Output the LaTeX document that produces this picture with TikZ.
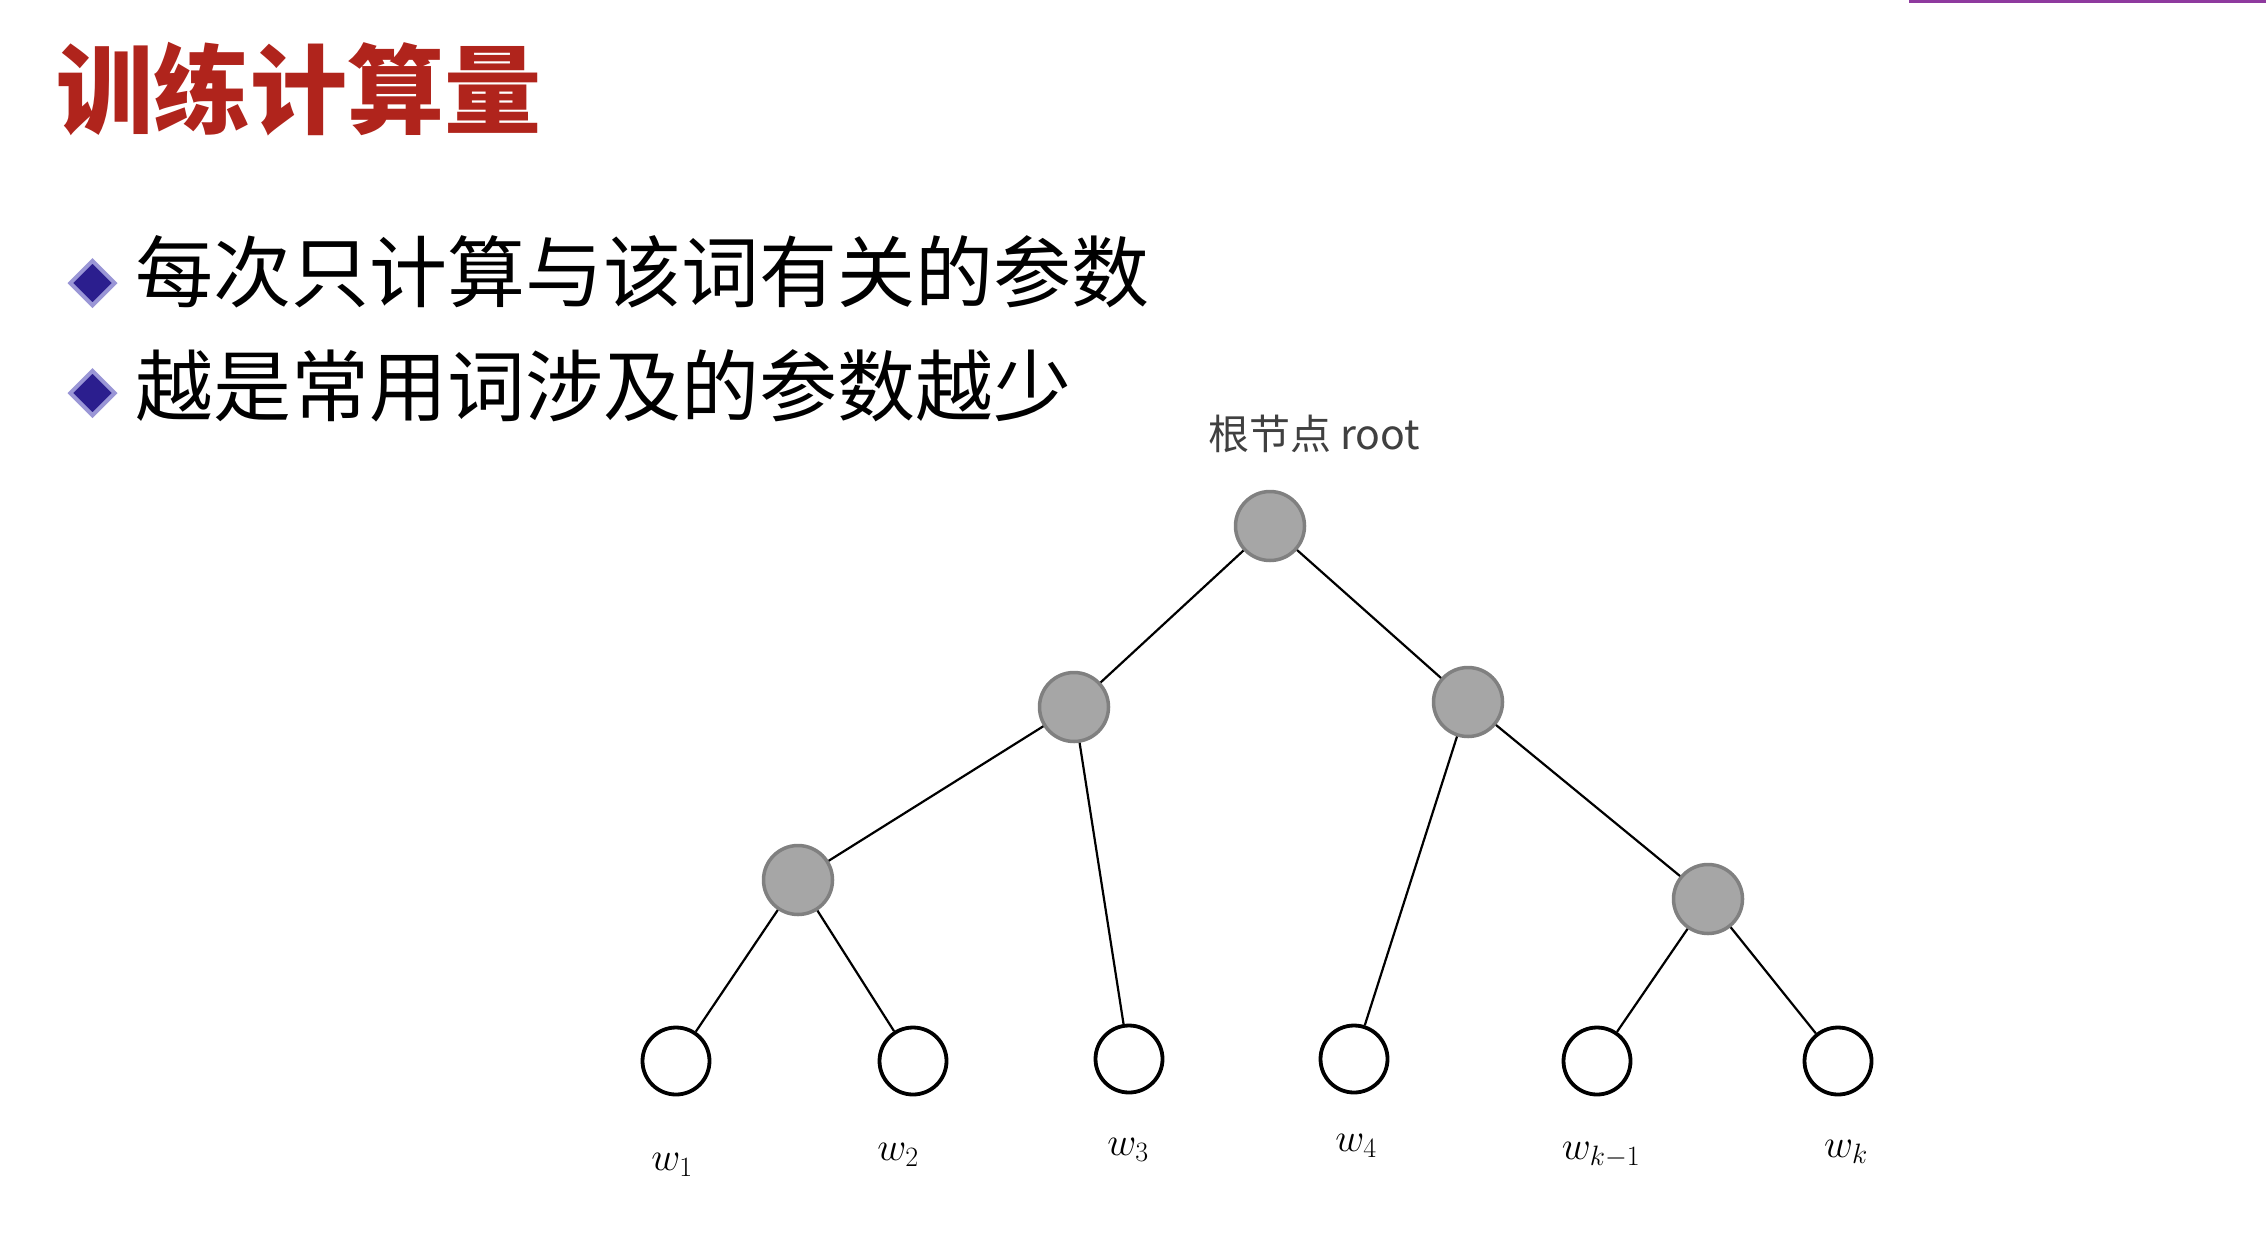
\RequirePackage{fix-cm}
\documentclass[tikz,border=0pt]{standalone}
\usepackage{fontspec}
\newfontfamily\cjk{Noto Sans CJK SC}
\usetikzlibrary{shapes.geometric}
\definecolor{titlered}{HTML}{B0241C}
\definecolor{innergray}{HTML}{A6A6A6}
\definecolor{ringgray}{HTML}{808080}
\definecolor{bulletblue}{HTML}{2B1E8E}
\definecolor{bulletedge}{HTML}{9A96D6}
\definecolor{accent}{HTML}{8E3A9E}
\definecolor{labelgray}{HTML}{404040}
\tikzset{
  inner/.style={circle, minimum size=69pt, inner sep=0pt, fill=innergray, draw=ringgray, line width=3.5pt},
  leaf/.style={circle, minimum size=67pt, inner sep=0pt, fill=white, draw=black, line width=3.8pt},
  edge/.style={draw=black, line width=2.2pt},
  bulletmark/.style={diamond, minimum width=46pt, minimum height=46pt, inner sep=0pt, fill=bulletblue, draw=bulletedge, line width=4pt},
  wlabel/.style={inner sep=0pt, font=\fontsize{40}{48}\selectfont},
}
\begin{document}
\begin{tikzpicture}[x=1pt, y=-1pt]
\useasboundingbox (0,0) rectangle (2266,1242);
\fill[white] (0,0) rectangle (2266,1242);
% accent rule at the top edge
\fill[accent] (1909,0) rectangle (2266,2.5);

% heading
\node[anchor=base west, inner sep=0pt, text=titlered, font=\cjk\bfseries\fontsize{97}{110}\selectfont] (title) at (56,126) {训练计算量};

% bullet points
\node[bulletmark] (b1) at (92.5,283) {};
\node[bulletmark] (b2) at (92.5,393) {};
\node[anchor=base west, inner sep=0pt, font=\cjk\fontsize{78}{92}\selectfont] (t1) at (135,301) {每次只计算与该词有关的参数};
\node[anchor=base west, inner sep=0pt, font=\cjk\fontsize{78}{92}\selectfont] (t2) at (135,415) {越是常用词涉及的参数越少};

% tree
\node[inner] (root) at (1270,526) {};
\node[inner] (n1) at (1074,707) {};
\node[inner] (n2) at (1468,702) {};
\node[inner] (n3) at (798,880) {};
\node[inner] (n4) at (1708,899) {};
\node[leaf] (w1) at (676,1061) {};
\node[leaf] (w2) at (913,1061) {};
\node[leaf] (w3) at (1129,1059) {};
\node[leaf] (w4) at (1354,1059) {};
\node[leaf] (w5) at (1597,1061) {};
\node[leaf] (w6) at (1838,1061) {};

\path[edge] (root) -- (n1);
\path[edge] (root) -- (n2);
\path[edge] (n1) -- (n3);
\path[edge] (n1) -- (w3);
\path[edge] (n2) -- (w4);
\path[edge] (n2) -- (n4);
\path[edge] (n3) -- (w1);
\path[edge] (n3) -- (w2);
\path[edge] (n4) -- (w5);
\path[edge] (n4) -- (w6);

\node[anchor=base west, inner sep=0pt, text=labelgray, font=\cjk\fontsize{41}{48}\selectfont] (rootlabel) at (1208,449) {根节点 root};

\node[wlabel] (l1) at (672,1165) {$w_1$};
\node[wlabel] (l2) at (898,1155) {$w_2$};
\node[wlabel] (l3) at (1128,1150) {$w_3$};
\node[wlabel] (l4) at (1356,1146) {$w_4$};
\node[wlabel] (l5) at (1601,1155) {$w_{k-1}$};
\node[wlabel] (l6) at (1846,1152) {$w_k$};
\end{tikzpicture}
\end{document}
